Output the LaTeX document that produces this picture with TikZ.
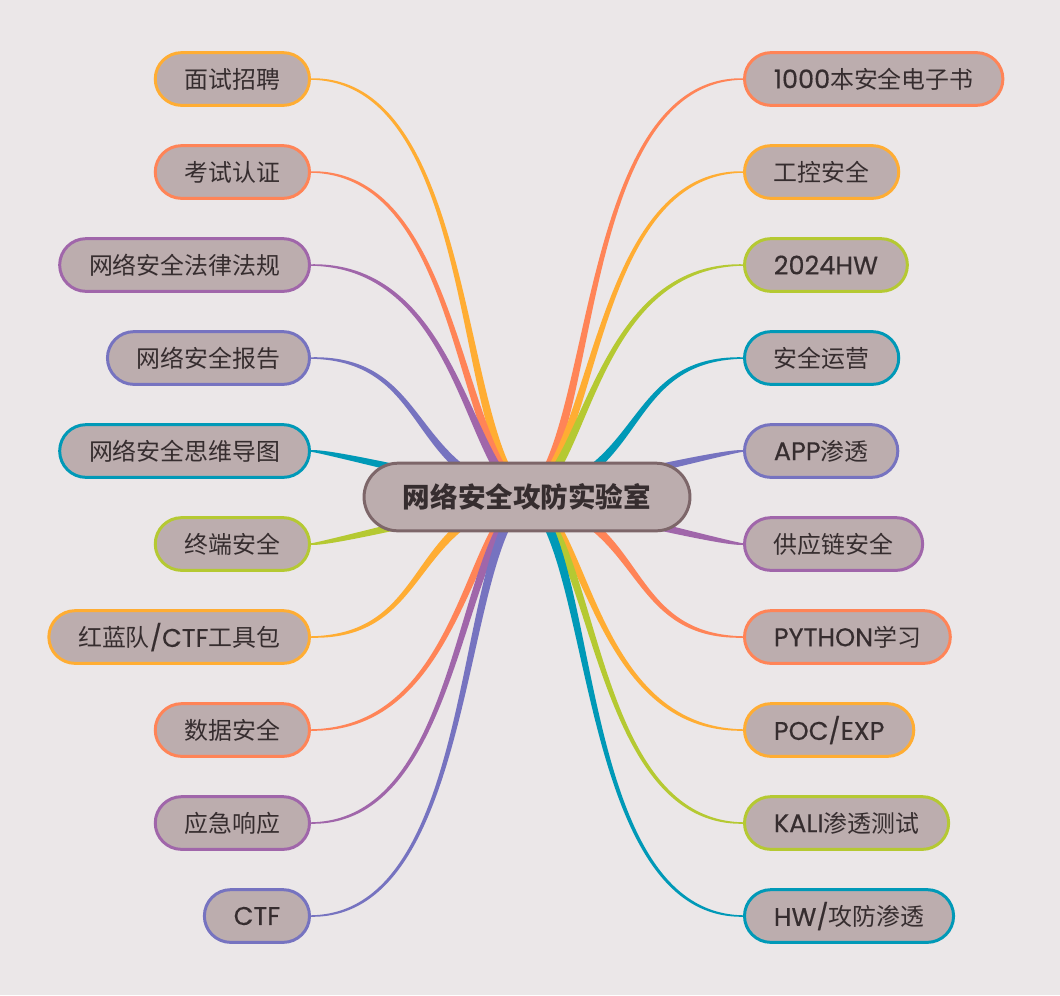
\documentclass[tikz,border=0pt]{standalone}
\usepackage{fontspec}
\setmainfont{Noto Sans CJK SC}
\newfontfamily\latin{Poppins}[Scale=1.07, FakeBold=0.4]
\usetikzlibrary{calc}

\definecolor{paper}{HTML}{EBE7E8}
\definecolor{leaffill}{HTML}{BCADAE}
\definecolor{rootline}{HTML}{7D6669}
\definecolor{ink}{HTML}{362D2F}
\definecolor{brorange}{HTML}{FFAD33}
\definecolor{brcoral}{HTML}{FF8457}
\definecolor{brpurple}{HTML}{A066AA}
\definecolor{brblue}{HTML}{7673C0}
\definecolor{brteal}{HTML}{0099B7}
\definecolor{brlime}{HTML}{B5C932}

\pgfdeclarelayer{paperlayer}
\pgfdeclarelayer{links}
\pgfsetlayers{paperlayer,links,main}

% tapered branch: colour, leaf anchor, x side, y side, first control (u,v), end pull, start half width (u,v)
\newcommand{\twig}[9]{%
  \fill[#1] ($(lab.center)+({1.3*(#3)*(#8)},{1.3*(#4)*(#9)})$)
    .. controls ($(lab.center)+({(#3)*((#5)+1.3*(#8))},{(#4)*((#6)+1.3*(#9))})$)
    and ($(#2)+({-(#3)*(#7)},{(#4)*3.2})$) .. ($(#2)+(0,{(#4)*0.75})$)
    -- ($(#2)+(0,{-(#4)*0.75})$)
    .. controls ($(#2)+({-(#3)*(#7)},{-(#4)*3.2})$)
    and ($(lab.center)+({(#3)*((#5)-1.3*(#8))},{(#4)*((#6)-1.3*(#9))})$)
    .. ($(lab.center)-({1.3*(#3)*(#8)},{1.3*(#4)*(#9)})$) -- cycle;}

\tikzset{
  leaf/.style={draw, line width=1.7pt, fill=leaffill, rounded corners=15pt,
    minimum height=30pt, inner xsep=16.7pt, inner ysep=0pt, text=ink,
    font=\fontsize{13.6}{16}\selectfont},
  root/.style={draw=rootline, line width=1.7pt, fill=leaffill, rounded corners=19.3pt,
    minimum height=38.5pt, inner xsep=22.1pt, inner ysep=0pt, text=ink,
    font=\fontsize{15.7}{18}\selectfont\bfseries},
}

\begin{document}
\begin{tikzpicture}[x=0.02cm, y=0.02cm]
  \begin{pgfonlayer}{paperlayer}
    \fill[paper] (0,0) rectangle (1060,-995);
  \end{pgfonlayer}

  \node[root] (lab) at (527,-497) {网络安全攻防实验室};

  % left side
  \node[leaf, draw=brorange, anchor=east] (mianshi) at (311,-79) {面试招聘};
  \node[leaf, draw=brcoral, anchor=east] (kaoshi) at (311,-172) {考试认证};
  \node[leaf, draw=brpurple, anchor=east] (falv) at (311,-265) {网络安全法律法规};
  \node[leaf, draw=brblue, anchor=east] (baogao) at (311,-358) {网络安全报告};
  \node[leaf, draw=brteal, anchor=east] (daotu) at (311,-451) {网络安全思维导图};
  \node[leaf, draw=brlime, anchor=east] (zhongduan) at (311,-544) {终端安全};
  \node[leaf, draw=brorange, anchor=east] (gongju) at (311,-637) {红蓝队{\latin /CTF}工具包};
  \node[leaf, draw=brcoral, anchor=east] (shuju) at (311,-730) {数据安全};
  \node[leaf, draw=brpurple, anchor=east] (yingji) at (311,-823) {应急响应};
  \node[leaf, draw=brblue, anchor=east] (ctf) at (311,-916) {{\latin CTF}};

  % right side
  \node[leaf, draw=brcoral, anchor=west] (dianzishu) at (743,-79) {{\latin 1000}本安全电子书};
  \node[leaf, draw=brorange, anchor=west] (gongkong) at (743,-172) {工控安全};
  \node[leaf, draw=brlime, anchor=west] (hwnian) at (743,-265) {{\latin 2024HW}};
  \node[leaf, draw=brteal, anchor=west] (yunying) at (743,-358) {安全运营};
  \node[leaf, draw=brblue, anchor=west] (app) at (743,-451) {{\latin APP}渗透};
  \node[leaf, draw=brpurple, anchor=west] (gongying) at (743,-544) {供应链安全};
  \node[leaf, draw=brcoral, anchor=west] (python) at (743,-637) {{\latin PYTHON}学习};
  \node[leaf, draw=brorange, anchor=west] (poc) at (743,-730) {{\latin POC/EXP}};
  \node[leaf, draw=brlime, anchor=west] (kali) at (743,-823) {{\latin KALI}渗透测试};
  \node[leaf, draw=brteal, anchor=west] (hwgf) at (743,-916) {{\latin HW/}攻防渗透};

  \begin{pgfonlayer}{links}
    \twig{brorange}{mianshi.east}{-1}{1}{70}{50}{166}{-3.1}{1.6}
    \twig{brcoral}{kaoshi.east}{-1}{1}{70}{40}{150}{-2.9}{1.9}
    \twig{brpurple}{falv.east}{-1}{1}{60}{20}{150}{-2.6}{2.4}
    \twig{brblue}{baogao.east}{-1}{1}{120}{20}{120}{-1.9}{2.9}
    \twig{brteal}{daotu.east}{-1}{1}{90}{19}{16}{-0.7}{3.4}
    \twig{brlime}{zhongduan.east}{-1}{-1}{90}{19}{16}{-0.7}{3.4}
    \twig{brorange}{gongju.east}{-1}{-1}{120}{20}{120}{-1.9}{2.9}
    \twig{brcoral}{shuju.east}{-1}{-1}{60}{20}{150}{-2.6}{2.4}
    \twig{brpurple}{yingji.east}{-1}{-1}{70}{40}{150}{-2.9}{1.9}
    \twig{brblue}{ctf.east}{-1}{-1}{70}{50}{166}{-3.1}{1.6}
    \twig{brcoral}{dianzishu.west}{1}{1}{70}{50}{166}{-3.1}{1.6}
    \twig{brorange}{gongkong.west}{1}{1}{70}{40}{150}{-2.9}{1.9}
    \twig{brlime}{hwnian.west}{1}{1}{60}{20}{150}{-2.6}{2.4}
    \twig{brteal}{yunying.west}{1}{1}{120}{20}{120}{-1.9}{2.9}
    \twig{brblue}{app.west}{1}{1}{90}{19}{16}{-0.7}{3.4}
    \twig{brpurple}{gongying.west}{1}{-1}{90}{19}{16}{-0.7}{3.4}
    \twig{brcoral}{python.west}{1}{-1}{120}{20}{120}{-1.9}{2.9}
    \twig{brorange}{poc.west}{1}{-1}{60}{20}{150}{-2.6}{2.4}
    \twig{brlime}{kali.west}{1}{-1}{70}{40}{150}{-2.9}{1.9}
    \twig{brteal}{hwgf.west}{1}{-1}{70}{50}{166}{-3.1}{1.6}
  \end{pgfonlayer}
\end{tikzpicture}
\end{document}
